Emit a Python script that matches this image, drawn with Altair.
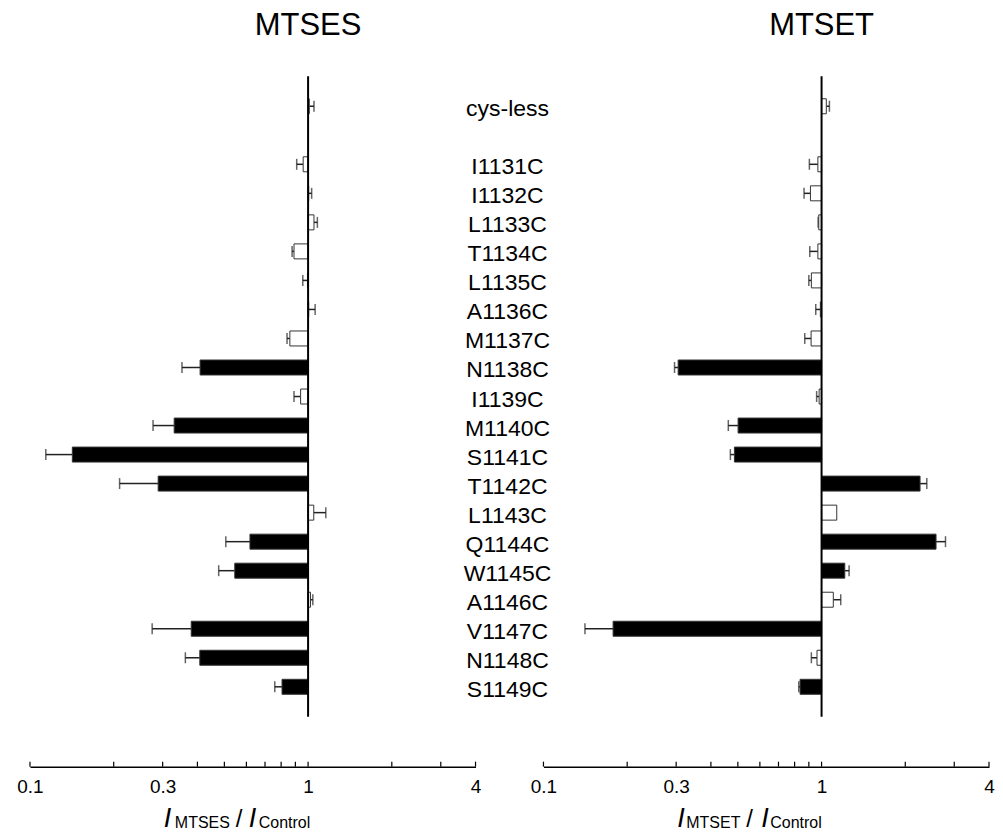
import altair as alt
import pandas as pd
import numpy as np

FONT = "Liberation Sans"

labels = ["cys-less", "I1131C", "I1132C", "L1133C", "T1134C", "L1135C", "A1136C",
          "M1137C", "N1138C", "I1139C", "M1140C", "S1141C", "T1142C", "L1143C",
          "Q1144C", "W1145C", "A1146C", "V1147C", "N1148C", "S1149C"]
spacer = " "
row_domain = [labels[0], spacer] + labels[1:]

mtses_mean = [1.01, 0.96, 1.005, 1.05, 0.89, 0.995, 1.005, 0.86, 0.409, 0.94, 0.330,
              0.142, 0.289, 1.048, 0.618, 0.545, 1.02, 0.380, 0.408, 0.806]
mtses_sem = [0.04, 0.05, 0.025, 0.03, 0.014, 0.038, 0.055, 0.02, 0.057, 0.05, 0.053,
             0.028, 0.079, 0.11, 0.112, 0.068, 0.02, 0.105, 0.046, 0.047]
mtses_sig = [False, False, False, False, False, False, False, False, True, False, True,
             True, True, False, True, True, False, True, True, True]

mtset_mean = [1.04, 0.97, 0.912, 0.977, 0.97, 0.919, 0.99, 0.917, 0.305, 0.98, 0.501,
              0.486, 2.26, 1.134, 2.58, 1.212, 1.102, 0.178, 0.963, 0.837]
mtset_sem = [0.027, 0.066, 0.047, 0.005, 0.063, 0.019, 0.037, 0.047, 0.009, 0.02, 0.039,
             0.016, 0.13, 0.0, 0.21, 0.044, 0.07, 0.037, 0.044, 0.009]
mtset_sig = [False, False, False, False, False, False, False, False, True, False, True,
             True, True, False, True, True, False, True, False, True]

tick_values = [0.1, 0.2, 0.3, 0.4, 0.5, 0.6, 0.7, 0.8, 0.9, 1, 2, 3, 4]
label_values = [0.1, 0.3, 1, 4]

W = 446
H = 641
AX_OFF = 50


def panel(name, mean, sem, sig, title_pos, with_labels):
    df = pd.DataFrame({"label": labels, "mean": mean, "sem": sem, "sig": sig})
    df["base"] = 1.0
    df["end"] = np.where(df["mean"] < 1, df["mean"] - df["sem"], df["mean"] + df["sem"])
    err_df = df[df["sem"] > 0]

    xs = alt.Scale(type="log", domain=[0.1, 4], nice=False)
    ax = alt.Axis(values=label_values, format="~g", tickSize=0, offset=AX_OFF,
                  labelFontSize=19, labelFont=FONT, labelPadding=11, labelColor="black",
                  domainColor="black", domainWidth=1.5, grid=False, title=None,
                  labelFlush=False, labelOverlap=False)
    yenc = alt.Y("label:N", scale=alt.Scale(domain=row_domain, paddingInner=0, paddingOuter=0.53), axis=None)

    bars = alt.Chart(df).mark_bar(size=15, stroke="#333", strokeWidth=1).encode(
        x=alt.X("mean:Q", scale=xs, axis=ax),
        x2="base:Q",
        y=yenc,
        fill=alt.condition("datum.sig", alt.value("black"), alt.value("white")),
    )
    err = alt.Chart(err_df).mark_rule(color="#222", strokeWidth=1.5).encode(
        x=alt.X("mean:Q", scale=xs, axis=ax), x2="end:Q", y=yenc)
    caps = alt.Chart(err_df).mark_tick(color="#222", size=11, thickness=1.5).encode(
        x=alt.X("end:Q", scale=xs, axis=ax), y=yenc)

    one = pd.DataFrame({"v": [1.0]})
    vline = alt.Chart(one).mark_rule(color="black", strokeWidth=2).encode(
        x=alt.X("v:Q", scale=xs, axis=ax), y=alt.value(0), y2=alt.value(H))
    title = alt.Chart(one).mark_text(text=name, fontSize=31, font=FONT, align="center",
                                     baseline="alphabetic", color="black").encode(
        x=alt.X("v:Q", scale=xs, axis=ax), y=alt.value(-41))

    ticks = alt.Chart(pd.DataFrame({"t": tick_values})).mark_rule(color="black", strokeWidth=1.2).encode(
        x=alt.X("t:Q", scale=xs, axis=ax), y=alt.value(H + AX_OFF - 5), y2=alt.value(H + AX_OFF))

    pieces = [("I", 27, "italic", title_pos[0], 751),
              (name, 16, "normal", title_pos[1], 752),
              ("/", 24, "normal", title_pos[2], 751),
              ("I", 27, "italic", title_pos[3], 751),
              ("Control", 16, "normal", title_pos[4], 752)]
    tparts = []
    for txt, fs, st, px, py in pieces:
        tparts.append(alt.Chart(one).mark_text(text=txt, fontSize=fs, fontStyle=st, font=FONT,
                                               align="left", baseline="alphabetic", color="black").encode(
            x=alt.value(px), y=alt.value(py)))

    layers = [err, caps, bars, vline, ticks, title] + tparts
    if with_labels:
        lab = alt.Chart(df).mark_text(fontSize=23, font=FONT, align="center", baseline="middle",
                                      dy=3, color="black").encode(
            x=alt.value(478), y=yenc, text="label:N")
        layers.append(lab)
    return alt.layer(*layers).properties(width=W, height=H)


left = panel("MTSES", mtses_mean, mtses_sem, mtses_sig, [134, 145, 206, 219, 229], True)
right = panel("MTSET", mtset_mean, mtset_sem, mtset_sig, [134, 143, 203, 218, 227], False)

chart = alt.hconcat(left, right, spacing=68, bounds="flush").properties(
    padding={"left": 8, "top": 2, "right": 0, "bottom": 0}
).configure_view(stroke=None)

chart.save("out.html", embed_options={"renderer": "svg", "actions": False})
